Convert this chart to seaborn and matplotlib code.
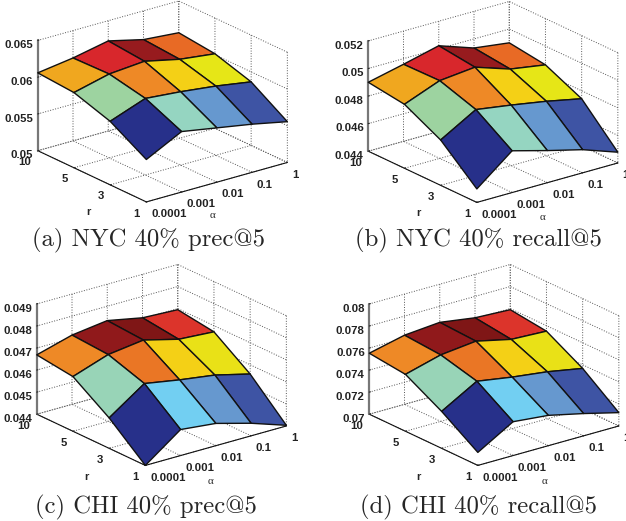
import numpy as np
import matplotlib
matplotlib.use('Agg')
import matplotlib.pyplot as plt
import seaborn as sns

# axis labels shared by all panels
alpha_labels = ['0.0001', '0.001', '0.01', '0.1', '1']
r_labels = ['1', '3', '5', '10']

# heights, rows are r=1,3,5,10 and columns are alpha
z_nyc_prec = [[.05577, .05823, .05739, .05655, .05555],
              [.05864, .06041, .05998, .05941, .05864],
              [.06023, .06141, .06180, .06073, .06014],
              [.06059, .06127, .06225, .06109, .06068]]
z_nyc_recall = [[.04498, .04703, .04633, .04568, .04478],
                [.04729, .04878, .04839, .04795, .04742],
                [.04864, .04964, .04990, .04905, .04864],
                [.04900, .04959, .05022, .04934, .04900]]
z_chi_prec = [[.04400, .04518, .04501, .04457, .04403],
              [.04538, .04649, .04621, .04598, .04558],
              [.04648, .04703, .04724, .04683, .04672],
              [.04669, .04714, .04735, .04703, .04695]]
z_chi_recall = [[.07118, .07307, .07275, .07202, .07121],
                [.07335, .07519, .07467, .07426, .07367],
                [.07516, .07603, .07638, .07565, .07550],
                [.07553, .07627, .07654, .07606, .07590]]

# colour value of each cell, 0 to 13 on the colormap below
c_nyc = [[0, 4, 2, 1],
         [5, 9, 7, 6],
         [8, 11, 12, 10]]
c_chi = [[0, 3, 2, 1],
         [4.3, 9.6, 7, 6.2],
         [9, 12.3, 13, 10.8]]

jet_colors = ['#27308a', '#3f55a5', '#6699d0', '#72cff2', '#96d5c0', '#9dd3a0',
              '#e6e617', '#f4d016', '#f0a71f', '#ee8a26', '#e86a25', '#d9272c',
              '#981b1e', '#7f1616']
cmap = sns.blend_palette(jet_colors, as_cmap=True)

W, H = 626, 521
sns.set_style('white')
plt.rcParams['font.family'] = ['Liberation Sans', 'DejaVu Sans']
plt.rcParams['grid.linestyle'] = ':'
plt.rcParams['grid.linewidth'] = 0.7
plt.rcParams['grid.color'] = '#555555'

fig = plt.figure(figsize=(W / 100, H / 100), dpi=100)


def panel(cx, cy, z, colors, zlim, zticks, zlabels, caption, capx, capy, rpos, apos):
    side = 300
    ax = fig.add_axes([(cx - side / 2) / W, 1 - (cy + side / 2) / H, side / W, side / H],
                      projection='3d', computed_zorder=False)
    ax.patch.set_alpha(0)
    ax.set_proj_type('ortho')
    ax.view_init(elev=21.3, azim=-127.6)
    ax.set_box_aspect((1, 1, 0.665), zoom=0.9)

    x, y = np.meshgrid(np.arange(len(alpha_labels)), np.arange(len(r_labels)))
    z = np.array(z)
    ax.plot_surface(x, y, z, facecolors=cmap(np.array(colors) / 13), shade=False,
                    rstride=1, cstride=1, edgecolor='#111111', linewidth=1.0,
                    antialiased=True)

    ax.set_xlim(0, 4, view_margin=0)
    ax.set_ylim(0, 3, view_margin=0)
    ax.set_zlim(zlim[0], zlim[1], view_margin=0)
    ax.set_xticks(range(len(alpha_labels)), alpha_labels)
    ax.set_yticks(range(len(r_labels)), r_labels)
    ax.set_zticks(zticks, zlabels)
    ax.tick_params(labelsize=8.2, pad=-3)
    ax.tick_params(axis='z', pad=-6)
    for lab in ax.get_xticklabels() + ax.get_yticklabels() + ax.get_zticklabels():
        lab.set_fontweight('bold')
        lab.set_color('#222222')
    for lab in ax.get_xticklabels():
        lab.set_ha('left')
    for lab in ax.get_yticklabels() + ax.get_zticklabels():
        lab.set_ha('right')

    for axis in [ax.xaxis, ax.yaxis, ax.zaxis]:
        axis.set_pane_color((1, 1, 1, 0))
        axis.pane.set_edgecolor('#666666')
        axis.pane.set_linestyle(':')
        axis._axinfo['tick']['inward_factor'] = 0.0
        axis._axinfo['tick']['outward_factor'] = 0.1
    ax.xaxis.line.set_color('#111111')
    ax.yaxis.line.set_color('#111111')
    ax.zaxis.line.set_color('#777777')
    ax.zaxis.line.set_linewidth(1.6)

    fig.text(rpos[0] / W, 1 - rpos[1] / H, 'r', ha='center', va='center',
             fontsize=8, fontweight='bold')
    fig.text(apos[0] / W, 1 - apos[1] / H, 'α', ha='center', va='center',
             fontsize=8, family='Liberation Serif')
    fig.text(capx / W, 1 - capy / H, caption, ha='center', va='center',
             fontsize=17.8, family='cmr10')
    return ax


panel(158.5, 105.5, z_nyc_prec, c_nyc, (.05, .065), [.05, .055, .06, .065],
      ['0.05', '0.055', '0.06', '0.065'], '(a) NYC 40% prec@5', 148, 240, (88, 212), (212, 216))
panel(489, 106, z_nyc_recall, c_nyc, (.044, .052), [.044, .046, .048, .05, .052],
      ['0.044', '0.046', '0.048', '0.05', '0.052'], '(b) NYC 40% recall@5', 478, 240, (418, 213), (542, 217))
panel(157.5, 369, z_chi_prec, c_chi, (.044, .049), [.044, .045, .046, .047, .048, .049],
      ['0.044', '0.045', '0.046', '0.047', '0.048', '0.049'], '(c) CHI 40% prec@5', 146, 507, (86, 477), (211, 482))
panel(490, 369, z_chi_recall, c_chi, (.07, .08), [.07, .072, .074, .076, .078, .08],
      ['0.07', '0.072', '0.074', '0.076', '0.078', '0.08'], '(d) CHI 40% recall@5', 479, 507, (418, 477), (544, 482))

fig.savefig('out.png', dpi=100)
